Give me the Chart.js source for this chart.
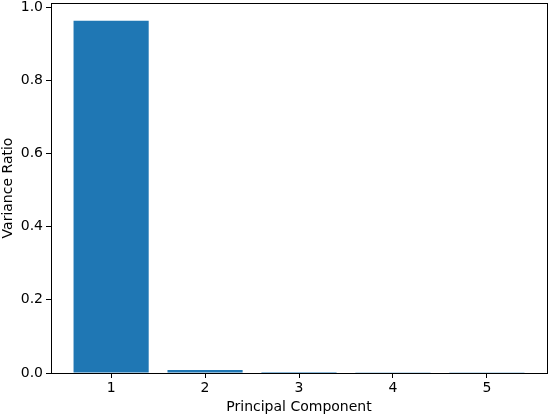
<!DOCTYPE html>
<html>
<head>
<meta charset="utf-8">
<script src="https://cdn.jsdelivr.net/npm/chart.js@4/dist/chart.umd.min.js"></script>
<style>
html,body{margin:0;padding:0;background:#fff;}
#wrap{width:550px;height:416px;}
</style>
</head>
<body>
<div id="wrap"><canvas id="c" width="550" height="416"></canvas></div>
<script>
const components = [1, 2, 3, 4, 5];
const varianceRatio = [0.9625, 0.0085, 0.0025, 0.0020, 0.0018];
const yTicks = [0.0, 0.2, 0.4, 0.6, 0.8, 1.0];

const frame = {
  id: 'frame',
  afterDatasetsDraw(chart) {
    const a = chart.chartArea, ctx = chart.ctx;
    ctx.save();
    ctx.strokeStyle = '#000';
    ctx.lineWidth = 1;
    ctx.strokeRect(Math.round(a.left) + 0.5, Math.round(a.top) + 0.5,
                   Math.round(a.right - a.left), Math.round(a.bottom - a.top));
    ctx.restore();
  }
};

const font = { family: 'DejaVu Sans', size: 14 };

new Chart(document.getElementById('c'), {
  type: 'bar',
  data: {
    datasets: [{
      data: components.map((c, i) => ({ x: c, y: varianceRatio[i] })),
      backgroundColor: '#1f77b4',
      borderWidth: 0,
      barPercentage: 0.8,
      categoryPercentage: 1.0
    }]
  },
  options: {
    responsive: false,
    animation: false,
    layout: { padding: { left: 0, right: 3, top: 3, bottom: 0 } },
    plugins: { legend: { display: false }, tooltip: { enabled: false } },
    scales: {
      x: {
        type: 'linear',
        offset: false,
        min: 0.36, max: 5.64,
        afterBuildTicks(s) { s.ticks = components.map(v => ({ value: v })); },
        afterFit(s) { s.height = 43; s.paddingLeft = 0; s.paddingRight = 0; },
        ticks: { color: '#000', font, padding: 2, callback: v => String(v) },
        grid: { drawOnChartArea: false, offset: false, tickLength: 5, color: '#000' },
        border: { color: '#000' },
        title: { display: true, text: 'Principal Component', color: '#000', font, padding: { top: 1, bottom: 0 } }
      },
      y: {
        type: 'linear',
        min: 0, max: 1.011,
        afterBuildTicks(s) { s.ticks = yTicks.map(v => ({ value: v })); },
        afterFit(s) { s.width = 51; s.paddingTop = 0; s.paddingBottom = 0; },
        ticks: { color: '#000', font, padding: 3, callback: v => Number(v).toFixed(1) },
        grid: { drawOnChartArea: false, tickLength: 5, color: '#000' },
        border: { color: '#000' },
        title: { display: true, text: 'Variance Ratio', color: '#000', font, padding: { top: 0, bottom: 2 } }
      }
    }
  },
  plugins: [frame]
});
</script>
</body>
</html>
